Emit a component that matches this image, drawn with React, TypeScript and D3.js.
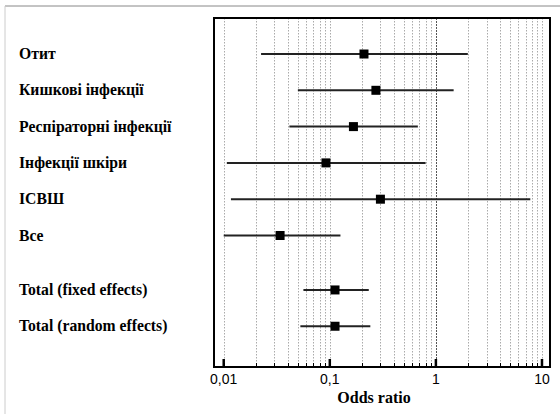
import React from "react";
import * as d3 from "d3";

const labels = [
  "Отит",
  "Кишкові інфекції",
  "Респіраторні інфекції",
  "Інфекції шкіри",
  "ІСВШ",
  "Все",
  "Total (fixed effects)",
  "Total (random effects)",
];
const rowPos = [0, 1, 2, 3, 4, 5, 6.5, 7.5];
const oddsRatio = [0.21, 0.272, 0.167, 0.092, 0.3, 0.034, 0.112, 0.112];
const ciLow = [0.0225, 0.05, 0.0416, 0.0107, 0.0117, 0.01, 0.0564, 0.0528];
const ciHigh = [2.0, 1.47, 0.676, 0.8, 7.76, 0.126, 0.233, 0.241];
const majorTicks = [0.01, 0.1, 1, 10];
const tickLabels = ["0,01", "0,1", "1", "10"];

const width = 560;
const height = 414;
const box = { left: 214, right: 550, top: 18, bottom: 367 };
const serif = "Liberation Serif, Times New Roman, DejaVu Serif, serif";
const sans = "Liberation Sans, Arial, sans-serif";

export default function App() {
  const x = d3
    .scaleLog()
    .domain([0.0081, 11.9])
    .range([box.left, box.right]);
  const y = d3.scaleLinear().domain([0, 1]).range([54, 90.3]);

  // grid values: 1..9 x each decade, inside the domain
  const grid: number[] = [];
  [0.01, 0.1, 1, 10].forEach((dec) => {
    for (let k = 1; k <= 9; k++) {
      const v = dec * k;
      if (v <= x.domain()[1]) grid.push(v);
    }
  });

  return (
    <svg
      width={width}
      height={height}
      style={{ position: "absolute", left: 0, top: 0, background: "#fff" }}
    >
      {/* outer frame */}
      <line x1={5} x2={width} y1={6} y2={6} stroke="#888" strokeWidth={1} />
      <line x1={5} x2={5} y1={6} y2={height} stroke="#ccc" strokeWidth={1} />

      {/* grid */}
      {grid.map((v, i) => (
        <line
          key={"g" + i}
          x1={Math.round(x(v)) + 0.5}
          x2={Math.round(x(v)) + 0.5}
          y1={box.top}
          y2={box.bottom}
          stroke={v === 1 ? "#555" : "#aaa"}
          strokeWidth={1}
          strokeDasharray={v === 1 ? "2,1" : "1.5,1.5"}
        />
      ))}

      {/* minor ticks */}
      {grid.map((v, i) => (
        <line
          key={"t" + i}
          x1={Math.round(x(v)) + 0.5}
          x2={Math.round(x(v)) + 0.5}
          y1={box.bottom}
          y2={box.bottom - 4}
          stroke="#000"
          strokeWidth={1}
        />
      ))}
      {majorTicks.map((v, i) => (
        <line
          key={"M" + i}
          x1={x(v)}
          x2={x(v)}
          y1={box.bottom}
          y2={box.bottom - 8}
          stroke="#000"
          strokeWidth={2.5}
        />
      ))}

      {/* plot box */}
      <rect
        x={box.left}
        y={box.top}
        width={box.right - box.left}
        height={box.bottom - box.top}
        fill="none"
        stroke="#000"
        strokeWidth={2}
      />

      {/* confidence intervals and markers */}
      {labels.map((lab, i) => (
        <g key={"r" + i}>
          <line
            x1={x(ciLow[i])}
            x2={x(ciHigh[i])}
            y1={y(rowPos[i])}
            y2={y(rowPos[i])}
            stroke="#222"
            strokeWidth={2}
          />
          <rect
            x={x(oddsRatio[i]) - 4.5}
            y={y(rowPos[i]) - 4.5}
            width={9}
            height={9}
            fill="#000"
          />
          <text
            x={19}
            y={y(rowPos[i]) + 5}
            style={{ fontFamily: serif, fontWeight: "bold", fontSize: "15.7px" }}
            fill="#000"
          >
            {lab}
          </text>
        </g>
      ))}

      {/* tick labels */}
      {majorTicks.map((v, i) => (
        <text
          key={"l" + i}
          x={x(v)}
          y={384}
          textAnchor="middle"
          style={{ fontFamily: sans, fontSize: "14px" }}
          fill="#000"
        >
          {tickLabels[i]}
        </text>
      ))}

      <text
        x={374}
        y={403}
        textAnchor="middle"
        style={{ fontFamily: serif, fontWeight: "bold", fontSize: "16px" }}
        fill="#000"
      >
        Odds ratio
      </text>
    </svg>
  );
}
